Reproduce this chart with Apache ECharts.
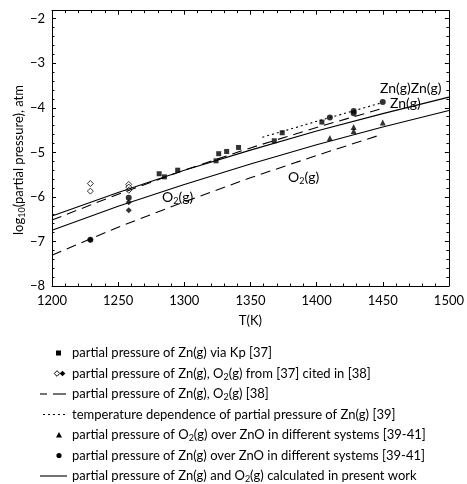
<!DOCTYPE html>
<html>
<head>
<meta charset="utf-8">
<script src="https://cdn.jsdelivr.net/npm/echarts@6/dist/echarts.min.js"></script>
<style>
  html, body { margin: 0; padding: 0; background: #fff; }
  #chart { width: 467px; height: 484px; }
</style>
</head>
<body>
<div id="chart"></div>
<script>
// squares: Zn(g) via Kp [37]
var sqT = [1281, 1285, 1295, 1324, 1326, 1332, 1341, 1368, 1374, 1404];
var sqP = [-5.48, -5.55, -5.40, -5.19, -5.03, -4.98, -4.89, -4.74, -4.56, -4.32];
// open / filled diamonds: [37] cited in [38]
var odT = [1229, 1229, 1258, 1258, 1258];
var odP = [-5.70, -5.87, -5.72, -5.78, -5.85];
var fdT = [1229, 1258, 1258];
var fdP = [-6.96, -6.12, -6.30];
// circles: Zn(g) over ZnO [39-41]
var ciT = [1229, 1258, 1410, 1428, 1428, 1450];
var ciP = [-6.96, -6.02, -4.22, -4.07, -4.12, -3.87];
// triangles: O2(g) over ZnO [39-41]
var trT = [1410, 1428, 1428, 1450];
var trP = [-4.68, -4.43, -4.52, -4.33];
// present work (solid)
var calcT = [1200, 1250, 1300, 1350, 1400, 1450, 1500];
var calcZn = [-6.43, -5.90, -5.40, -4.95, -4.52, -4.13, -3.76];
var calcO2 = [-6.75, -6.21, -5.72, -5.26, -4.83, -4.43, -4.06];
// [38] (dashed)
var r38T = [1200, 1250, 1300, 1350, 1400, 1448];
var r38Zn = [-6.52, -5.94, -5.40, -4.90, -4.44, -4.03];
var r38O2 = [-7.31, -6.68, -6.11, -5.57, -5.07, -4.61];
// [39] (dotted)
var r39T = [1359, 1404, 1450];
var r39Zn = [-4.66, -4.27, -3.88];

function pairs(xs, ys) {
  return xs.map(function (x, i) { return [x, ys[i]]; });
}

var FONT = 'Lato';
var chart = echarts.init(document.getElementById('chart'));

var tickStyle = { inside: true, length: 4, lineStyle: { color: '#000', width: 1 } };
var minorStyle = { show: true, splitNumber: 5, length: 2.5, lineStyle: { color: '#000', width: 1 } };
var lineAx = { show: true, onZero: false, lineStyle: { color: '#000', width: 1 } };
var minusFmt = function (v) {
  if (Math.abs(v - Math.round(v)) > 1e-6) return '';
  return String(Math.round(v)).replace('-', '\u2212');
};

var subRich = {
  sub: { fontSize: 9, fontFamily: FONT, verticalAlign: 'bottom', lineHeight: 9, fill: '#000', color: '#000' }
};

function lineSeries(name, data, type, dash) {
  return {
    name: name, type: 'line', data: data, symbol: 'none', silent: true,
    lineStyle: { color: '#000', width: 1.1, type: dash || type }
  };
}
function scatterSeries(name, data, sym, size, fill) {
  return {
    name: name, type: 'scatter', data: data, symbol: sym, symbolSize: size, silent: true,
    itemStyle: { color: fill || '#000', borderColor: '#000', borderWidth: fill ? 1 : 0 }
  };
}

// legend rows (graphic)
var rowY = [353, 373.5, 394, 414.5, 435, 455.5, 476];
var legendTexts = [
  'partial pressure of Zn(g) via Kp [37]',
  'partial pressure of Zn(g), O{sub|2}(g) from [37] cited in [38]',
  'partial pressure of Zn(g), O{sub|2}(g) [38]',
  'temperature dependence of partial pressure of Zn(g) [39]',
  'partial pressure of O{sub|2}(g) over ZnO in different systems [39-41]',
  'partial pressure of Zn(g) over ZnO in different systems [39-41]',
  'partial pressure of Zn(g) and O{sub|2}(g) calculated in present work'
];
var graphics = [];
legendTexts.forEach(function (t, i) {
  graphics.push({
    type: 'text', x: 72, y: rowY[i],
    style: { text: t, fontFamily: FONT, fontSize: 13, fill: '#000', verticalAlign: 'middle', align: 'left', lineHeight: 16, rich: subRich }
  });
});
function diamond(cx, cy, r) {
  return [[cx, cy - r], [cx + r, cy], [cx, cy + r], [cx - r, cy]];
}
graphics.push(
  { type: 'rect', shape: { x: 56, y: rowY[0] - 2.5, width: 5, height: 5 }, style: { fill: '#000' } },
  { type: 'polygon', shape: { points: diamond(57, rowY[1], 2.8) }, style: { fill: '#fff', stroke: '#000', lineWidth: 1 } },
  { type: 'polygon', shape: { points: diamond(62.5, rowY[1], 2.8) }, style: { fill: '#000' } },
  { type: 'line', shape: { x1: 40, y1: rowY[2], x2: 47, y2: rowY[2] }, style: { stroke: '#000', lineWidth: 1.1 } },
  { type: 'line', shape: { x1: 53, y1: rowY[2], x2: 66, y2: rowY[2] }, style: { stroke: '#000', lineWidth: 1.1 } },
  { type: 'line', shape: { x1: 43, y1: rowY[3], x2: 67, y2: rowY[3] }, style: { stroke: '#000', lineWidth: 1.2, lineDash: [2, 3] } },
  { type: 'polygon', shape: { points: [[59, rowY[4] - 3], [62, rowY[4] + 2.5], [56, rowY[4] + 2.5]] }, style: { fill: '#000' } },
  { type: 'circle', shape: { cx: 59, cy: rowY[5], r: 2.6 }, style: { fill: '#000' } },
  { type: 'line', shape: { x1: 40, y1: rowY[6], x2: 67, y2: rowY[6] }, style: { stroke: '#000', lineWidth: 1.1 } }
);
// y axis title
graphics.push({
  type: 'text', x: 19, y: 160, rotation: Math.PI / 2,
  style: { text: 'log{sub|10}(partial pressure), atm', fontFamily: FONT, fontSize: 13, fill: '#000', align: 'center', verticalAlign: 'middle', lineHeight: 16, rich: subRich }
});
// curve labels
var curveLabels = [
  { x: 380, y: 88, t: 'Zn(g)Zn(g)' },
  { x: 390, y: 103, t: 'Zn(g)' },
  { x: 162, y: 197, t: 'O{sub|2}(g)' },
  { x: 288, y: 177, t: 'O{sub|2}(g)' }
];
curveLabels.forEach(function (c) {
  graphics.push({
    type: 'text', x: c.x, y: c.y, z: 10,
    style: { text: c.t, fontFamily: FONT, fontSize: 14, fill: '#000', align: 'left', verticalAlign: 'middle', lineHeight: 17, rich: subRich }
  });
});

var option = {
  animation: false,
  backgroundColor: '#fff',
  grid: { left: 52, right: 17, top: 10.7, bottom: 198 },
  xAxis: [
    {
      type: 'value', min: 1200, max: 1500, interval: 50, position: 'bottom',
      name: 'T(K)', nameLocation: 'middle', nameGap: 28,
      nameTextStyle: { fontFamily: FONT, fontSize: 13, color: '#000' },
      axisLine: lineAx, axisTick: tickStyle, minorTick: minorStyle,
      splitLine: { show: false },
      axisLabel: { fontFamily: FONT, fontSize: 13, color: '#000', margin: 8, formatter: function (v) { return String(v); } }
    },
    {
      type: 'value', min: 1200, max: 1500, interval: 50, position: 'top',
      axisLine: lineAx, axisTick: tickStyle, minorTick: minorStyle,
      splitLine: { show: false }, axisLabel: { show: false }
    }
  ],
  yAxis: [
    {
      type: 'value', min: -8, max: -1.82, interval: 1, position: 'left',
      axisLine: lineAx, axisTick: tickStyle, minorTick: minorStyle,
      splitLine: { show: false },
      axisLabel: { fontFamily: FONT, fontSize: 13, color: '#000', margin: 7, formatter: minusFmt }
    },
    {
      type: 'value', min: -8, max: -1.82, interval: 1, position: 'right',
      axisLine: lineAx, axisTick: tickStyle, minorTick: minorStyle,
      splitLine: { show: false }, axisLabel: { show: false }
    }
  ],
  series: [
    lineSeries('calc Zn', pairs(calcT, calcZn), 'solid'),
    lineSeries('calc O2', pairs(calcT, calcO2), 'solid'),
    lineSeries('[38] Zn', pairs(r38T, r38Zn), 'dashed', [10, 6]),
    lineSeries('[38] O2', pairs(r38T, r38O2), 'dashed', [10, 6]),
    lineSeries('[39] Zn', pairs(r39T, r39Zn), 'dotted', [2, 3]),
    scatterSeries('Kp [37]', pairs(sqT, sqP), 'rect', 5),
    scatterSeries('[37] open', pairs(odT, odP), 'diamond', 6, '#fff'),
    scatterSeries('[37] filled', pairs(fdT, fdP), 'diamond', 6),
    scatterSeries('Zn over ZnO', pairs(ciT, ciP), 'circle', 6),
    scatterSeries('O2 over ZnO', pairs(trT, trP), 'triangle', 6)
  ],
  graphic: graphics
};
chart.setOption(option);
</script>
</body>
</html>
